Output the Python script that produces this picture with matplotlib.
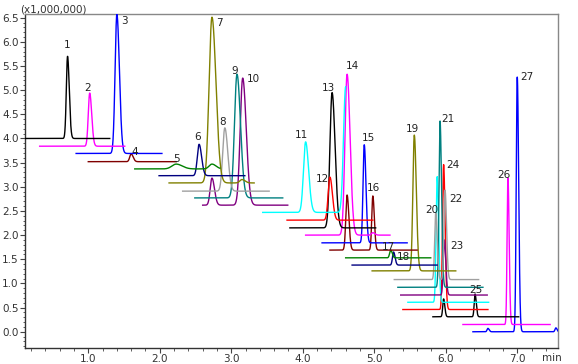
"""
Stacked chromatogram traces (offset overlay) with numbered peaks
"""
import matplotlib.pyplot as plt
import numpy as np
from matplotlib.ticker import MultipleLocator

# one entry per trace: colour, baseline level (x1,000,000), time window (min)
colors = ['#000000', '#ff00ff', '#0000ff', '#800000', '#008000', '#000080', '#808000',
          '#a0a0a0', '#008080', '#800080',
          '#00ffff', '#ff0000', '#000000', '#ff00ff', '#0000ff', '#800000',
          '#008000', '#000080', '#808000', '#a0a0a0', '#008080', '#800080',
          '#00ffff', '#ff0000', '#000000', '#ff00ff', '#0000ff']
baselines = [4.00, 3.84, 3.69, 3.52, 3.37, 3.23, 3.08, 2.91, 2.77, 2.62,
             2.47, 2.31, 2.15, 2.00, 1.84, 1.69,
             1.53, 1.38, 1.26, 1.08, 0.92, 0.76, 0.61, 0.46, 0.31, 0.15, 0.00]
starts = [0.10, 0.32, 0.83, 1.00, 1.65, 1.99, 2.13, 2.32, 2.49, 2.60,
          3.44, 3.78, 3.82, 4.04, 4.27, 4.38,
          4.60, 4.69, 4.97, 5.28, 5.33, 5.37, 5.47, 5.40, 5.82, 6.24, 6.38]
ends = [1.30, 1.51, 2.03, 2.23, 2.84, 3.19, 3.32, 3.53, 3.72, 3.79,
        4.60, 4.98, 5.02, 5.22, 5.46, 5.60,
        5.79, 5.88, 6.14, 6.46, 6.52, 6.58, 6.60, 6.59, 7.02, 7.46, 7.60]

# peaks per trace: (retention time, height, width)
peaks = [
    [(0.71, 1.70, 0.017)],
    [(1.02, 1.10, 0.020)],
    [(1.40, 2.88, 0.025)],
    [(1.60, 0.16, 0.020)],
    [(2.23, 0.10, 0.060), (2.73, 0.10, 0.040)],
    [(2.55, 0.65, 0.025)],
    [(2.73, 3.43, 0.040), (3.15, 0.07, 0.030)],
    [(2.91, 1.31, 0.030)],
    [(3.08, 2.56, 0.035)],
    [(2.73, 0.56, 0.025), (3.16, 2.63, 0.035)],
    [(4.04, 1.46, 0.030), (4.60, 2.60, 0.030)],
    [(4.38, 0.89, 0.025)],
    [(4.41, 2.80, 0.030)],
    [(4.62, 3.33, 0.030), (4.98, 0.05, 0.020)],
    [(4.86, 2.03, 0.017)],
    [(4.62, 1.14, 0.018), (4.98, 1.12, 0.015)],
    [(5.23, 0.16, 0.015)],
    [(5.27, 0.27, 0.015)],
    [(5.56, 2.81, 0.020)],
    [(5.86, 1.38, 0.015), (5.99, 1.85, 0.015)],
    [(5.92, 3.44, 0.015)],
    [(5.98, 1.14, 0.015)],
    [(5.88, 2.60, 0.015)],
    [(5.97, 3.00, 0.015)],
    [(5.97, 0.37, 0.012), (6.41, 0.47, 0.012)],
    [(6.87, 3.03, 0.012)],
    [(6.59, 0.07, 0.012), (7.00, 5.27, 0.014), (7.54, 0.08, 0.012)],
]

# peak numbers: (trace, peak in trace, text, label offset in px right/up)
peak_labels = [
    (0, 0, '1', 0, 11), (1, 0, '2', -2, 5), (2, 0, '3', 8, -7), (3, 0, '4', 4, 2),
    (4, 0, '5', 0, 5), (5, 0, '6', -2, 7), (6, 0, '7', 7, -6), (7, 0, '8', -2, 6),
    (8, 0, '9', -2, 3), (9, 1, '10', 11, -1), (10, 0, '11', -4, 7), (11, 0, '12', -7, -2),
    (12, 0, '13', -4, 5), (13, 0, '14', 5, 8), (14, 0, '15', 4, 7), (15, 1, '16', 1, 8),
    (16, 0, '17', -2, 3), (17, 0, '18', 10, -5), (18, 0, '19', -2, 6), (19, 0, '20', -4, 3),
    (20, 0, '21', 8, 2), (19, 1, '22', 11, -9), (21, 0, '23', 13, -6), (23, 0, '24', 9, 0),
    (24, 1, '25', 1, 4), (25, 0, '26', -4, 3), (26, 1, '27', 10, 0),
]


def peak_shape(t, pos, height, width):
    """Gaussian with a bit of tailing on the right side"""
    w = np.where(t < pos, width, width * 1.4)
    return height * np.exp(-0.5 * ((t - pos) / w) ** 2)


fig = plt.figure(figsize=(5.78, 3.64), dpi=100)
ax = fig.add_axes([25 / 578, 1 - 347.7 / 364, 533 / 578, 333.4 / 364])

n = len(colors)
for i in range(n):
    t = np.linspace(starts[i], ends[i], 3000)
    y = np.full_like(t, baselines[i])
    for pos, h, w in peaks[i]:
        y += peak_shape(t, pos, h, w)
    ax.plot(t, y, color=colors[i], lw=1.0, zorder=10 + n - i)

px = 0.72  # points per pixel
for ti, pi, txt, dx, dy in peak_labels:
    pos, h, w = peaks[ti][pi]
    ax.annotate(txt, (pos, baselines[ti] + h), xytext=(dx * px, dy * px),
                textcoords='offset points', ha='center', va='center',
                fontsize=7.5, color='#222222', zorder=50)

ax.set_xlim(0.115, 7.57)
ax.set_ylim(-0.33, 6.57)
ax.xaxis.set_major_locator(MultipleLocator(1.0))
ax.xaxis.set_minor_locator(MultipleLocator(0.2))
ax.yaxis.set_major_locator(MultipleLocator(0.5))
ax.yaxis.set_minor_locator(MultipleLocator(0.1))
ax.xaxis.set_major_formatter(lambda v, p: f'{v:.1f}')
ax.yaxis.set_major_formatter(lambda v, p: f'{v:.1f}')
ax.tick_params(which='major', length=3.6, width=0.8, color='#444444',
               labelsize=7.5, labelcolor='#333333', pad=1)
ax.tick_params(which='minor', length=1.8, width=0.6, color='#444444')

for side in ['left', 'bottom']:
    ax.spines[side].set_color('#333333')
    ax.spines[side].set_linewidth(1.0)
for side in ['top', 'right']:
    ax.spines[side].set_color('#888888')
    ax.spines[side].set_linewidth(1.0)

fig.text(20 / 578, 1 - 10 / 364, '(x1,000,000)', fontsize=7.5, color='#333333',
         ha='left', va='center')
fig.text(552 / 578, 1 - 358 / 364, 'min', fontsize=7.5, color='#333333',
         ha='center', va='center')

fig.savefig('out.png', dpi=100)
